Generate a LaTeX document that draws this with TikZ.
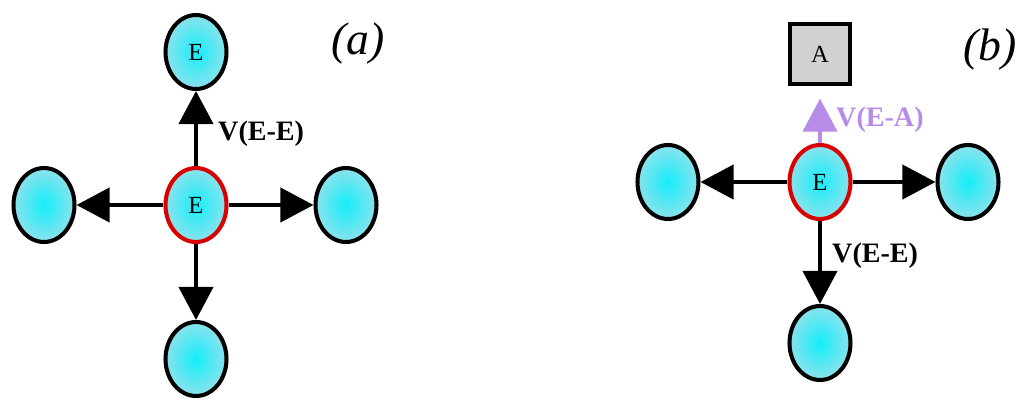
\documentclass[tikz,border=0pt]{standalone}
\usepackage{fontspec}
\setmainfont{Liberation Serif}
\usetikzlibrary{shapes.geometric,arrows.meta}

\definecolor{ballin}{RGB}{20,238,250}
\definecolor{ballout}{RGB}{140,226,236}
\definecolor{pairA}{RGB}{182,140,232}

\begin{document}
\begin{tikzpicture}[x=0.02cm,y=-0.02cm,
    ball/.style={ellipse,draw=black,line width=2.3pt,inner color=ballin,outer color=ballout,
      minimum width=1.22cm,minimum height=1.48cm,inner sep=0pt,font=\fontsize{14}{16}\selectfont},
    centre/.style={ball,draw=red!85!black},
    push/.style={line width=2.3pt,-{Triangle[length=6.6mm,width=6.8mm]}},
    vlab/.style={anchor=west,font=\fontsize{16}{18}\selectfont\bfseries}]
  \useasboundingbox (0,0) rectangle (1019,409);

  % (a): one E with four E neighbours
  \node[centre] (ea) at (196,205) {E};
  \node[ball] (eaT) at (196,52) {E};
  \node[ball] (eaL) at (44,205) {};
  \node[ball] (eaR) at (346,205) {};
  \node[ball] (eaB) at (196,359) {};
  \draw[push] (ea) -- (eaT);
  \draw[push] (ea) -- (eaL);
  \draw[push] (ea) -- (eaR);
  \draw[push] (ea) -- (eaB);
  \node[vlab] (vaa) at (212,134) {V(E-E)};
  \node[font=\fontsize{26}{28}\selectfont\itshape] (tita) at (358,44) {(a)};

  % (b): the same with an A above
  \node[draw,line width=1.8pt,fill=black!18,minimum size=1.2cm,font=\fontsize{14}{16}\selectfont] (boxA) at (820,54) {A};
  \node[centre] (eb) at (820,182) {E};
  \node[ball] (ebL) at (668,182) {};
  \node[ball] (ebR) at (968,182) {};
  \node[ball] (ebB) at (820,343) {};
  \draw[push] (eb) -- (ebL);
  \draw[push] (eb) -- (ebR);
  \draw[push] (eb) -- (ebB);
  \draw[push,pairA,shorten >=0.26cm] (eb) -- (boxA);
  \node[vlab,text=pairA] (vba) at (830,120) {V(E-A)};
  \node[vlab] (vbe) at (826,256) {V(E-E)};
  \node[font=\fontsize{26}{28}\selectfont\itshape] (titb) at (990,50) {(b)};
\end{tikzpicture}
\end{document}
